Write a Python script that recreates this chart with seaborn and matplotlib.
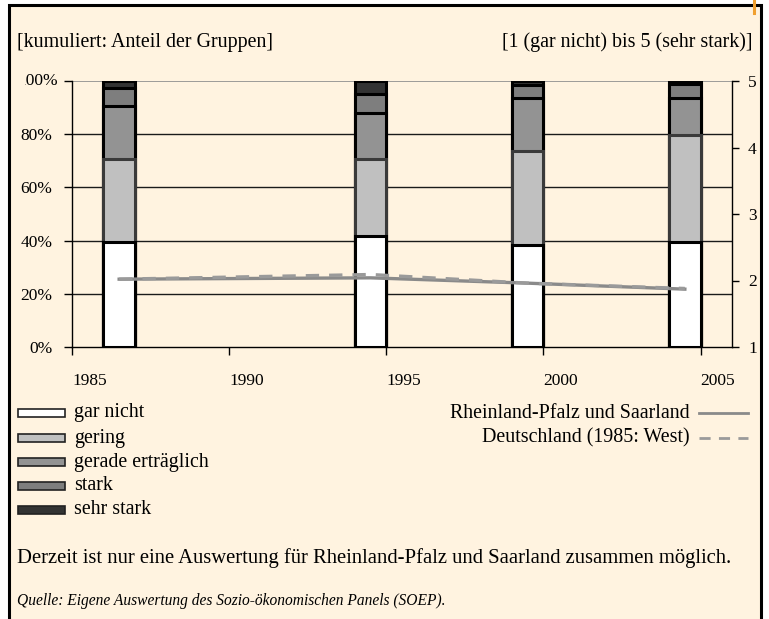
import matplotlib
matplotlib.use("Agg")
import matplotlib.pyplot as plt
from matplotlib.patches import Rectangle
from matplotlib.lines import Line2D
from matplotlib.transforms import Bbox
import seaborn as sns
import pandas as pd

W, H = 769, 619

# survey waves; each bar spans one year starting at the wave year
waves = [1986, 1994, 1999, 2004]
categories = ["gar nicht", "gering", "gerade erträglich", "stark", "sehr stark"]
share_gar_nicht = [39.5, 41.9, 38.3, 39.6]
share_gering = [31.2, 28.9, 35.4, 40.1]
share_gerade = [19.9, 17.0, 20.0, 13.8]
share_stark = [6.8, 7.5, 4.8, 5.4]
share_sehr_stark = [2.6, 4.7, 1.5, 1.1]

# mean rating on the 1..5 scale
mean_rp_saar = [2.02, 2.04, 1.96, 1.87]
mean_de = [2.02, 2.09, 1.96, 1.88]

pct_ticks = [0, 20, 40, 60, 80, 100]
pct_labels = ["0%", "20%", "40%", "60%", "80%", "100%"]
scale_ticks = [1, 2, 3, 4, 5]
year_ticks = [1985, 1990, 1995, 2000, 2005]

seg_colors = ["#FFFFFF", "#C0C0C0", "#939393", "#7E7E7E", "#333333"]
FONT = "Liberation Serif"
plt.rcParams["font.family"] = FONT
TXT = 14.4
TICK = 12.5


def fx(x):
    return x / W


def fy(y):
    return 1 - y / H


fig = plt.figure(figsize=(W / 100, H / 100), dpi=100, facecolor="white")

# cream panel with black border (open at the bottom)
fig.patches.append(Rectangle((fx(9), -0.05), fx(760.5) - fx(9), fy(4.5) + 0.05,
                             transform=fig.transFigure, facecolor="#FFF3E0",
                             edgecolor="black", linewidth=2.2, zorder=-5))
# small orange marker at the top right corner
fig.lines.append(Line2D([fx(754), fx(754)], [fy(0), fy(13)],
                        transform=fig.transFigure, color="#F0A030",
                        linewidth=2.2, zorder=5))

ax = fig.add_axes([fx(72), fy(347), fx(732) - fx(72), fy(81) - fy(347)])
ax.set_facecolor("none")

# stacked bars: draw cumulative totals from the top segment down
df = pd.DataFrame({"wave": [w + 0.5 for w in waves]})
shares = [share_gar_nicht, share_gering, share_gerade, share_stark, share_sehr_stark]
cum = [0.0] * len(waves)
cums = []
for s in shares:
    cum = [c + v for c, v in zip(cum, s)]
    cums.append(cum)
for k in range(len(categories) - 1, -1, -1):
    df["val"] = cums[k]
    edge = "#3a3a3a" if k == 1 else "black"
    sns.barplot(data=df, x="wave", y="val", native_scale=True, width=0.2,
                color=seg_colors[k], saturation=1, edgecolor=edge,
                linewidth=2.2, errorbar=None, ax=ax, zorder=2)

ax.set_xlim(1985, 2006)
ax.set_ylim(0, 100)
ax.set_xlabel("")
ax.set_ylabel("")
ax.set_yticks(pct_ticks)
ax.set_yticklabels(pct_labels[:-1] + [""])
ax.set_xticks(year_ticks)
ax.set_xticklabels([str(y) for y in year_ticks], ha="left")
for y in pct_ticks[1:-1]:
    ax.axhline(y, color="#1a1a1a", linewidth=1.0, zorder=1)
ax.axhline(100, color="#8c8c8c", linewidth=1.2, zorder=1)
for side in ["top", "right"]:
    ax.spines[side].set_visible(False)
for side in ["left", "bottom"]:
    ax.spines[side].set_color("black")
    ax.spines[side].set_linewidth(1.0)
ax.tick_params(axis="y", direction="out", length=6, width=1, pad=8,
               labelsize=TICK, colors="black")
ax.tick_params(axis="x", direction="out", length=6, width=1, pad=13,
               labelsize=TICK, colors="black")

# mean-rating lines on the secondary axis
ax2 = ax.twinx()
ax2.set_facecolor("none")
sns.lineplot(x=[w + 0.5 for w in waves], y=mean_rp_saar, ax=ax2,
             color="#8a8a8a", linewidth=2.4, zorder=3)
sns.lineplot(x=[w + 0.5 for w in waves], y=mean_de, ax=ax2,
             color="#9a9a9a", linewidth=2.4, linestyle=(0, (4, 3)), zorder=3)
ax2.set_ylim(1, 5)
ax2.set_xlim(1985, 2006)
ax2.set_yticks(scale_ticks)
ax2.set_ylabel("")
for side in ["top", "left", "bottom"]:
    ax2.spines[side].set_visible(False)
ax2.spines["right"].set_color("black")
ax2.spines["right"].set_linewidth(1.0)
ax2.tick_params(axis="y", direction="out", length=5, width=1, pad=6.5,
                labelsize=TICK, colors="black")

# top percent label, partly cut off at its left edge
t = fig.text(fx(58), fy(81), "100%", ha="right", va="center", fontsize=TICK)
t.set_clip_box(Bbox.from_extents(25, 0, W, H))
t.set_clip_on(True)

# headers
fig.text(fx(17), fy(42), "[kumuliert: Anteil der Gruppen]", ha="left",
         va="center", fontsize=TXT)
fig.text(fx(752), fy(42), "[1 (gar nicht) bis 5 (sehr stark)]", ha="right",
         va="center", fontsize=TXT)

# bar legend
rows = [413, 438, 462, 486, 510]
for name, col, yy in zip(categories, seg_colors, rows):
    fig.patches.append(Rectangle((fx(18), fy(yy + 4)), fx(65) - fx(18),
                                 fy(yy - 4) - fy(yy + 4),
                                 transform=fig.transFigure, facecolor=col,
                                 edgecolor="#222222", linewidth=1.2))
    fig.text(fx(74), fy(yy), name, ha="left", va="center", fontsize=TXT)

# line legend
line_items = [("Rheinland-Pfalz und Saarland", "-", "#8a8a8a"),
              ("Deutschland (1985: West)", (0, (4, 3)), "#9a9a9a")]
for (name, ls, col), yy in zip(line_items, rows[:2]):
    fig.text(fx(690), fy(yy), name, ha="right", va="center", fontsize=TXT)
    fig.lines.append(Line2D([fx(699), fx(748)], [fy(yy), fy(yy)],
                            transform=fig.transFigure, color=col,
                            linewidth=2.0, linestyle=ls))

# notes
fig.text(fx(17), fy(558),
         "Derzeit ist nur eine Auswertung für Rheinland-Pfalz und Saarland zusammen möglich.",
         ha="left", va="center", fontsize=14.9)
fig.text(fx(17), fy(601),
         "Quelle: Eigene Auswertung des Sozio-ökonomischen Panels (SOEP).",
         ha="left", va="center", fontsize=11.2, style="italic")

fig.savefig("out.png", dpi=100, facecolor="white")
